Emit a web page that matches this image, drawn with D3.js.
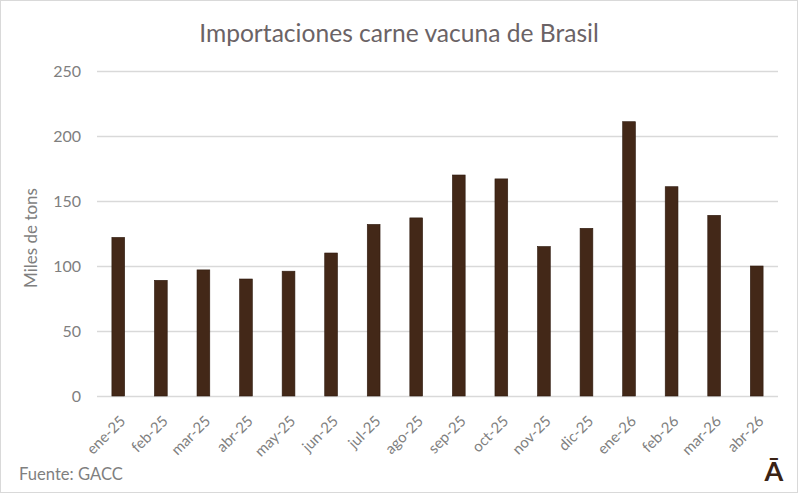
<!DOCTYPE html>
<html>
<head>
<meta charset="utf-8">
<script src="https://cdn.jsdelivr.net/npm/d3@7"></script>
<style>
  body { margin: 0; background: #fff; }
  text { font-family: Lato, "Open Sans", sans-serif; }
</style>
</head>
<body>
<div id="chart"></div>
<script>
var months = ["ene-25", "feb-25", "mar-25", "abr-25", "may-25", "jun-25", "jul-25", "ago-25",
  "sep-25", "oct-25", "nov-25", "dic-25", "ene-26", "feb-26", "mar-26", "abr-26"];
var imports = [122, 89, 97, 90, 96, 110, 132, 137, 170, 167, 115, 129, 211, 161, 139, 100];
var yTicks = [0, 50, 100, 150, 200, 250];

var svgWidth = 800;
var svgHeight = 494;

var margin = { top: 71, right: 22, bottom: 98, left: 97 };
var width = svgWidth - margin.left - margin.right;
var height = svgHeight - margin.top - margin.bottom;

var svg = d3.select("#chart")
  .append("svg")
  .attr("width", svgWidth)
  .attr("height", svgHeight);

// outer frame
svg.append("rect")
  .attr("x", 0.5).attr("y", 0.5)
  .attr("width", svgWidth - 3).attr("height", svgHeight - 2)
  .attr("fill", "#fff")
  .attr("stroke", "#d9d9d9");

var chartGroup = svg.append("g")
  .attr("transform", `translate(${margin.left}, ${margin.top})`);

var x = d3.scaleBand()
  .domain(months)
  .range([0, width])
  .paddingInner(0.7)
  .paddingOuter(0.35);

var y = d3.scaleLinear()
  .domain([0, 250])
  .range([height, 0]);

// gridlines + y labels
var yAxis = chartGroup.append("g")
  .call(d3.axisLeft(y).tickValues(yTicks).tickSize(-width).tickPadding(16));
yAxis.select(".domain").remove();
yAxis.selectAll(".tick line").attr("stroke", "#d9d9d9").attr("stroke-width", 1.3);
yAxis.selectAll(".tick text")
  .attr("fill", "#7f7f7f")
  .style("font-size", "16px");

// bars
chartGroup.selectAll(".bar")
  .data(imports)
  .enter()
  .append("rect")
  .attr("class", "bar")
  .attr("x", (d, i) => x(months[i]))
  .attr("y", d => y(d))
  .attr("width", x.bandwidth())
  .attr("height", d => height - y(d))
  .attr("fill", "#432818")
  .attr("stroke", "#2e1a0e")
  .attr("stroke-width", 0.6);

// x labels
var xAxis = chartGroup.append("g")
  .attr("transform", `translate(0, ${height})`)
  .call(d3.axisBottom(x).tickSize(0).tickPadding(0));
xAxis.select(".domain").remove();
xAxis.selectAll(".tick text")
  .attr("fill", "#7f7f7f")
  .style("font-size", "15px")
  .attr("text-anchor", "end")
  .attr("dy", "0")
  .attr("transform", "translate(8, 26) rotate(-45)");

// title
svg.append("text")
  .attr("x", 399)
  .attr("y", 42)
  .attr("text-anchor", "middle")
  .attr("fill", "#6b6366")
  .style("font-size", "24.6px")
  .text("Importaciones carne vacuna de Brasil");

// y axis title
svg.append("text")
  .attr("transform", "translate(37, 238) rotate(-90)")
  .attr("text-anchor", "middle")
  .attr("fill", "#7f7f7f")
  .style("font-size", "17px")
  .text("Miles de tons");

// source
svg.append("text")
  .attr("x", 19)
  .attr("y", 480)
  .attr("fill", "#7f7f7f")
  .style("font-size", "16.6px")
  .text("Fuente: GACC");

// logo
svg.append("text")
  .attr("x", 774)
  .attr("y", 481)
  .attr("text-anchor", "middle")
  .attr("fill", "#3a2314")
  .style("font-size", "27px")
  .style("font-weight", "bold")
  .text("Ā");
</script>
</body>
</html>
